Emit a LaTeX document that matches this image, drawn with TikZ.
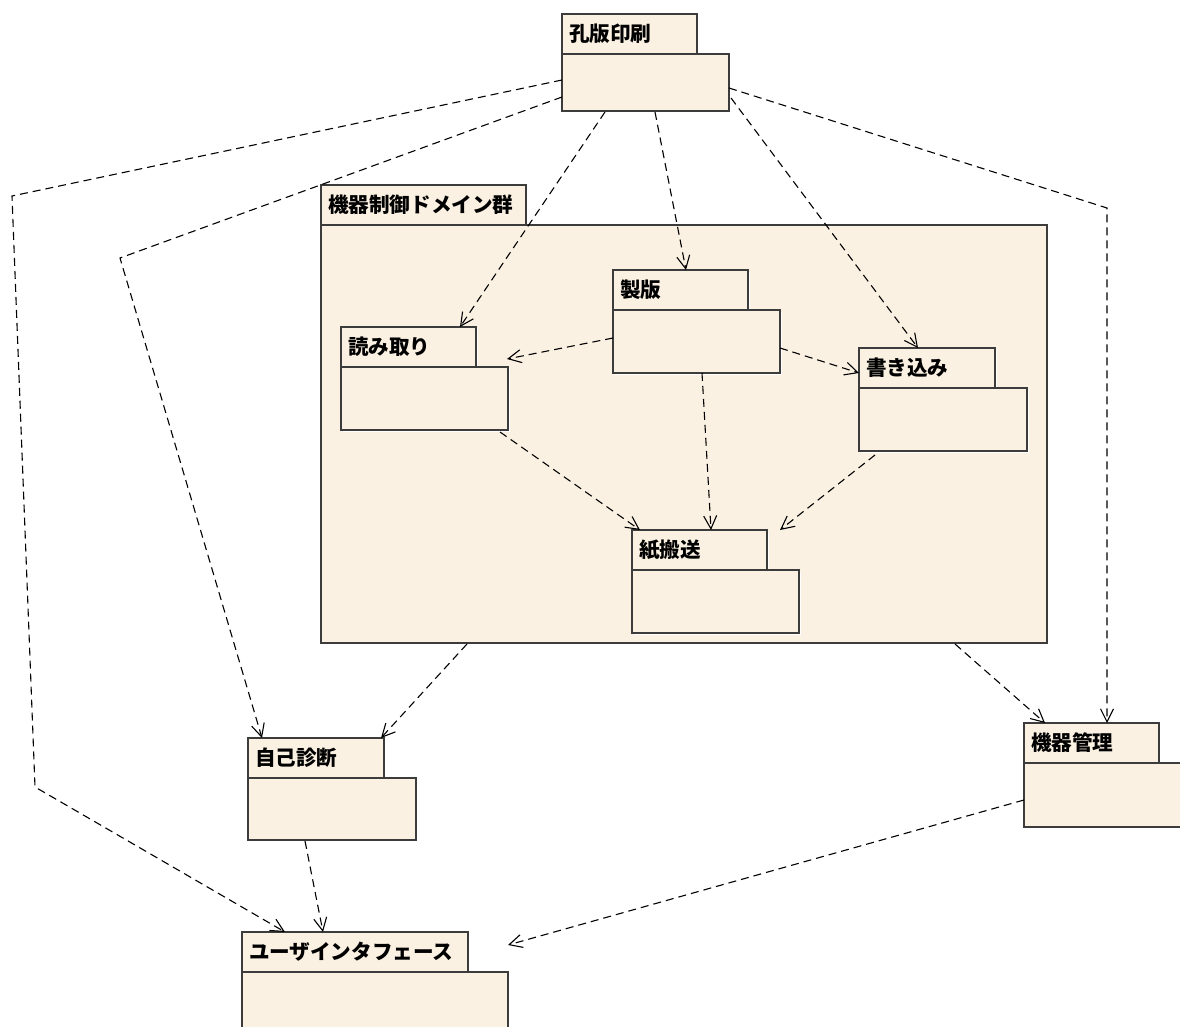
\documentclass[tikz,border=0pt]{standalone}
\usepackage{fontspec}
\newfontfamily\jpfont{Noto Sans CJK JP}
\usetikzlibrary{arrows.meta,shadows}

\definecolor{pkgfill}{RGB}{251,241,226}
\definecolor{pkgline}{RGB}{60,60,60}

\tikzset{
  pkgbase/.style={draw=pkgline, fill=pkgfill, line width=1.4pt, anchor=north west,
    outer sep=0pt, inner ysep=0pt,
    drop shadow={shadow xshift=1.6pt, shadow yshift=-1.6pt, fill=white, opacity=1}},
  pkgtab/.style={pkgbase, minimum height=40pt, inner xsep=7pt, align=left,
    font=\jpfont\bfseries\fontsize{20.6}{24}\selectfont},
  pkgbody/.style={pkgbase, inner sep=0pt},
  dep/.style={draw=black, line width=1.1pt, dash pattern=on 8pt off 5pt,
    -{Straight Barb[length=13pt,width=13pt,line width=1.1pt]}}
}

\begin{document}
\begin{tikzpicture}[x=1pt,y=-1pt]
\useasboundingbox (0,0) rectangle (1180,1027);
\clip (0,0) rectangle (1180,1027);
\fill[white] (0,0) rectangle (1180,1027);

% package group for device control
\node[pkgtab, text width=191pt] (dom) at (321,185) {機器制御ドメイン群};
\node[pkgbody, minimum width=726pt, minimum height=418pt] (domb) at (dom.south west) {};

% top-level packages
\node[pkgtab, text width=121pt] (kohan) at (562,14) {孔版印刷};
\node[pkgbody, minimum width=167pt, minimum height=57pt] (kohanb) at (kohan.south west) {};

\node[pkgtab, text width=121pt] (seihan) at (613,270) {製版};
\node[pkgbody, minimum width=167pt, minimum height=63pt] (seihanb) at (seihan.south west) {};

\node[pkgtab, text width=121pt] (yomi) at (341,327) {読み取り};
\node[pkgbody, minimum width=167pt, minimum height=63pt] (yomib) at (yomi.south west) {};

\node[pkgtab, text width=122pt] (kaki) at (859,348) {書き込み};
\node[pkgbody, minimum width=168pt, minimum height=63pt] (kakib) at (kaki.south west) {};

\node[pkgtab, text width=121pt] (kami) at (632,530) {紙搬送};
\node[pkgbody, minimum width=167pt, minimum height=63pt] (kamib) at (kami.south west) {};

\node[pkgtab, text width=122pt] (jiko) at (248,738) {自己診断};
\node[pkgbody, minimum width=168pt, minimum height=62pt] (jikob) at (jiko.south west) {};

\node[pkgtab, text width=121pt] (kanri) at (1024,723) {機器管理};
\node[pkgbody, minimum width=170pt, minimum height=64pt] (kanrib) at (kanri.south west) {};

\node[pkgtab, text width=212pt] (ui) at (242,932) {ユーザインタフェース};
\node[pkgbody, minimum width=266pt, minimum height=70pt] (uib) at (ui.south west) {};

% routing points of the long dependencies
\coordinate (wa) at (12,196);
\coordinate (wb) at (35,787);
\coordinate (wc) at (120,258);
\coordinate (wd) at (1107,208);

% dependencies from the stencil printing package
\draw[dep] ([shift={(0,26)}]kohanb.north west) -- (wa) -- (wb) -- ([shift={(43,0)}]ui.north west);
\draw[dep] ([shift={(0,43)}]kohanb.north west) -- (wc) -- ([shift={(14,0)}]jiko.north west);
\draw[dep] ([shift={(43,1)}]kohanb.south west) -- ([shift={(119,0)}]yomi.north west);
\draw[dep] ([shift={(93,1)}]kohanb.south west) -- ([shift={(73,0)}]seihan.north west);
\draw[dep] ([shift={(2,44)}]kohanb.north east) -- ([shift={(59,0)}]kaki.north west);
\draw[dep] ([shift={(0,34)}]kohanb.north east) -- (wd) -- ([shift={(83,0)}]kanri.north west);

% dependencies inside the device control group
\draw[dep] ([shift={(0,28)}]seihanb.north west) -- ([shift={(-1,-8)}]yomib.north east);
\draw[dep] ([shift={(0,38)}]seihanb.north east) -- ([shift={(0,25)}]kaki.north west);
\draw[dep] ([shift={(89,0)}]seihanb.south west) -- ([shift={(79,0)}]kami.north west);
\draw[dep] ([shift={(-8,2)}]yomib.south east) -- ([shift={(8,0)}]kami.north west);
\draw[dep] ([shift={(16,4)}]kakib.south west) -- ([shift={(13,0)}]kami.north east);

% dependencies from the group and the lower packages
\draw[dep] ([shift={(146,1)}]domb.south west) -- ([shift={(-3,0)}]jiko.north east);
\draw[dep] ([shift={(-92,1)}]domb.south east) -- ([shift={(21,0)}]kanri.north west);
\draw[dep] ([shift={(57,1)}]jikob.south west) -- ([shift={(81,0)}]ui.north west);
\draw[dep] ([shift={(0,37)}]kanrib.north west) -- ([shift={(40,13)}]ui.north east);
\end{tikzpicture}
\end{document}
